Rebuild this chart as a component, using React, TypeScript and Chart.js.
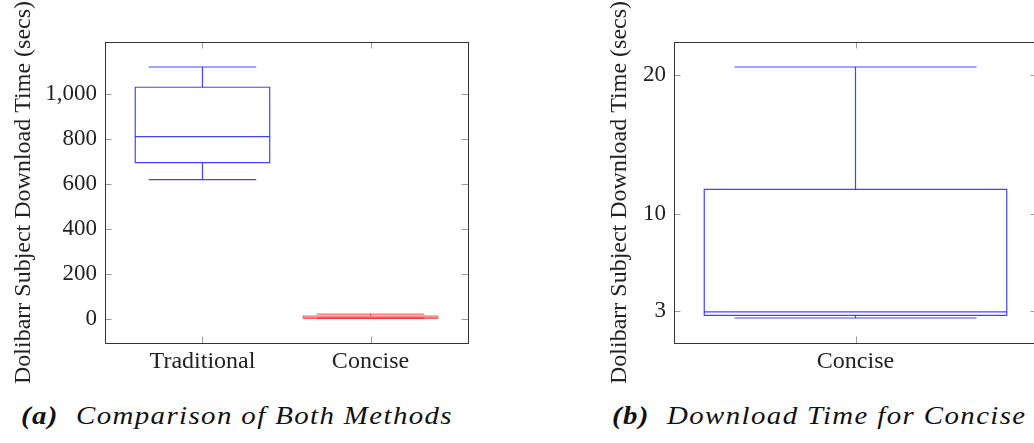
import React, { useEffect, useRef } from 'react';
import { Chart, registerables } from 'chart.js';
Chart.register(...registerables);

// ---- Data: (a) Comparison of Both Methods ----
const leftCategories = ['Traditional', 'Concise'];
const leftLowerWhisker = [618, 2.5];
const leftQ1 = [693, 2.7];
const leftMedian = [809, 2.95];
const leftQ3 = [1028, 11.75];
const leftUpperWhisker = [1118, 20.55];
const leftYTicks = [0, 200, 400, 600, 800, 1000];

// ---- Data: (b) Download Time for Concise ----
const rightCategories = ['Concise'];
const rightLowerWhisker = [2.49];
const rightQ1 = [2.68];
const rightMedian = [2.93];
const rightQ3 = [11.75];
const rightUpperWhisker = [20.55];
const rightYTicks = [3, 10, 20];

const FONT = "'Liberation Serif', 'Times New Roman', serif";
const BLUE = 'rgba(20,20,255,0.8)';
const RED = 'rgba(255,0,0,0.6)';

const boxPlotPlugin = {
  id: 'boxPlotDraw',
  afterDatasetsDraw(chart: any, _args: any, opts: any) {
    const { ctx, chartArea, scales } = chart;
    const x = scales.x;
    const y = scales.y;
    const s = opts.stats;
    if (!s) return;
    ctx.save();
    ctx.beginPath();
    ctx.rect(chartArea.left, chartArea.top, chartArea.width, chartArea.height);
    ctx.clip();
    ctx.lineWidth = 1.2;
    for (let i = 0; i < s.median.length; i++) {
      const pos = i + 1;
      const cx = x.getPixelForValue(pos);
      const bl = x.getPixelForValue(pos - 0.4);
      const br = x.getPixelForValue(pos + 0.4);
      const wl = x.getPixelForValue(pos - 0.32);
      const wr = x.getPixelForValue(pos + 0.32);
      const yLo = y.getPixelForValue(s.lo[i]);
      const yQ1 = y.getPixelForValue(s.q1[i]);
      const yMed = y.getPixelForValue(s.median[i]);
      const yQ3 = y.getPixelForValue(s.q3[i]);
      const yHi = y.getPixelForValue(s.hi[i]);
      ctx.strokeStyle = s.colors[i];
      ctx.beginPath();
      ctx.rect(bl, yQ3, br - bl, yQ1 - yQ3);
      ctx.stroke();
      ctx.beginPath();
      ctx.moveTo(bl, yMed);
      ctx.lineTo(br, yMed);
      ctx.stroke();
      ctx.beginPath();
      ctx.moveTo(cx, yQ3);
      ctx.lineTo(cx, yHi);
      ctx.moveTo(cx, yQ1);
      ctx.lineTo(cx, yLo);
      ctx.stroke();
      ctx.beginPath();
      ctx.moveTo(wl, yHi);
      ctx.lineTo(wr, yHi);
      ctx.moveTo(wl, yLo);
      ctx.lineTo(wr, yLo);
      ctx.stroke();
    }
    ctx.restore();
  },
};

const framePlugin = {
  id: 'frameTicks',
  afterDraw(chart: any) {
    const { ctx, chartArea, scales } = chart;
    const { left, right, top, bottom } = chartArea;
    const L = 6.5;
    ctx.save();
    ctx.strokeStyle = '#999';
    ctx.lineWidth = 1;
    ctx.beginPath();
    scales.y.ticks.forEach((t: any) => {
      const py = Math.round(scales.y.getPixelForValue(t.value)) + 0.5;
      ctx.moveTo(left, py);
      ctx.lineTo(left + L, py);
      ctx.moveTo(right, py);
      ctx.lineTo(right - L, py);
    });
    scales.x.ticks.forEach((t: any) => {
      const px = Math.round(scales.x.getPixelForValue(t.value)) + 0.5;
      ctx.moveTo(px, top);
      ctx.lineTo(px, top + L);
      ctx.moveTo(px, bottom);
      ctx.lineTo(px, bottom - L);
    });
    ctx.stroke();
    ctx.strokeStyle = '#333';
    ctx.lineWidth = 1;
    ctx.strokeRect(Math.round(left) + 0.5, Math.round(top) + 0.5, Math.round(right - left), Math.round(bottom - top));
    ctx.restore();
  },
};

type Cfg = {
  categories: string[];
  lo: number[];
  q1: number[];
  median: number[];
  q3: number[];
  hi: number[];
  colors: string[];
  yTicks: number[];
  yMin: number;
  yMax: number;
  xPad: number;
  yAxisWidth: number;
  xAxisHeight: number;
  padTop: number;
  padRight: number;
  titlePadTop: number;
  tickFormat: (v: number) => string;
};

function BoxChart({ cfg, width, height }: { cfg: Cfg; width: number; height: number }) {
  const ref = useRef<HTMLCanvasElement>(null);
  useEffect(() => {
    if (!ref.current) return;
    const chart = new Chart(ref.current, {
      type: 'scatter',
      data: {
        datasets: [
          {
            data: cfg.median.map((m, i) => ({ x: i + 1, y: m })),
            pointRadius: 0,
            showLine: false,
          },
        ],
      },
      options: {
        animation: false,
        responsive: false,
        devicePixelRatio: 1,
        layout: { padding: { top: cfg.padTop, right: cfg.padRight, left: 0, bottom: 0 } },
        plugins: {
          legend: { display: false },
          tooltip: { enabled: false },
          boxPlotDraw: {
            stats: { lo: cfg.lo, q1: cfg.q1, median: cfg.median, q3: cfg.q3, hi: cfg.hi, colors: cfg.colors },
          },
        } as any,
        scales: {
          x: {
            type: 'linear',
            min: 1 - cfg.xPad,
            max: cfg.categories.length + cfg.xPad,
            grid: { display: false, drawTicks: false },
            border: { display: false },
            afterBuildTicks: (scale: any) => {
              scale.ticks = cfg.categories.map((_, i) => ({ value: i + 1 }));
            },
            afterFit: (scale: any) => {
              scale.height = cfg.xAxisHeight;
            },
            ticks: {
              padding: 4,
              color: '#222',
              font: { family: FONT, size: 24 },
              callback: (v: any) => cfg.categories[Number(v) - 1] ?? '',
              maxRotation: 0,
              autoSkip: false,
            },
          },
          y: {
            type: 'linear',
            min: cfg.yMin,
            max: cfg.yMax,
            grid: { display: false, drawTicks: false },
            border: { display: false },
            afterBuildTicks: (scale: any) => {
              scale.ticks = cfg.yTicks.map((v) => ({ value: v }));
            },
            afterFit: (scale: any) => {
              scale.width = cfg.yAxisWidth;
            },
            ticks: {
              padding: 8,
              color: '#222',
              font: { family: FONT, size: 23 },
              callback: (v: any) => cfg.tickFormat(Number(v)),
              autoSkip: false,
            },
            title: {
              display: true,
              text: 'Dolibarr Subject Download Time (secs)',
              color: '#222',
              font: { family: FONT, size: 24 },
              padding: { top: cfg.titlePadTop, bottom: 0 },
            },
          },
        },
      },
      plugins: [boxPlotPlugin, framePlugin],
    });
    return () => chart.destroy();
  }, []);
  return <canvas ref={ref} width={width} height={height} style={{ width, height, display: 'block' }} />;
}

const leftCfg: Cfg = {
  categories: leftCategories,
  lo: leftLowerWhisker,
  q1: leftQ1,
  median: leftMedian,
  q3: leftQ3,
  hi: leftUpperWhisker,
  colors: [BLUE, RED],
  yTicks: leftYTicks,
  yMin: -108,
  yMax: 1229,
  xPad: 0.58,
  yAxisWidth: 105,
  xAxisHeight: 395 - 343,
  padTop: 42,
  padRight: 480 - 468,
  titlePadTop: 9,
  tickFormat: (v) => v.toLocaleString('en-US'),
};

const rightCfg: Cfg = {
  categories: rightCategories,
  lo: rightLowerWhisker,
  q1: rightQ1,
  median: rightMedian,
  q3: rightQ3,
  hi: rightUpperWhisker,
  colors: [BLUE],
  yTicks: rightYTicks,
  yMin: 0.69,
  yMax: 22.35,
  xPad: 0.48,
  yAxisWidth: 94,
  xAxisHeight: 395 - 343,
  padTop: 42,
  padRight: 470 - 457,
  titlePadTop: 25,
  tickFormat: (v) => String(v),
};

const captionStyle: React.CSSProperties = {
  position: 'absolute',
  top: 403,
  fontFamily: FONT,
  fontStyle: 'italic',
  fontSize: 25,
  lineHeight: '25px',
  color: '#111',
  whiteSpace: 'nowrap',
  letterSpacing: '1.2px',
  transform: 'scaleX(1.155)',
  transformOrigin: 'left center',
};

export default function App() {
  return (
    <div
      style={{
        position: 'fixed',
        left: 0,
        top: 0,
        width: 1034,
        height: 443,
        overflow: 'hidden',
        background: '#fff',
      }}
    >
      <div style={{ position: 'absolute', left: 0, top: 0 }}>
        <BoxChart cfg={leftCfg} width={480} height={395} />
      </div>
      <div style={{ position: 'absolute', left: 580, top: 0 }}>
        <BoxChart cfg={rightCfg} width={470} height={395} />
      </div>
      <div style={{ ...captionStyle, left: 21 }}>
        <b>(a)</b>&nbsp; Comparison of Both Methods
      </div>
      <div style={{ ...captionStyle, left: 612 }}>
        <b>(b)</b>&nbsp; Download Time for Concise
      </div>
    </div>
  );
}
